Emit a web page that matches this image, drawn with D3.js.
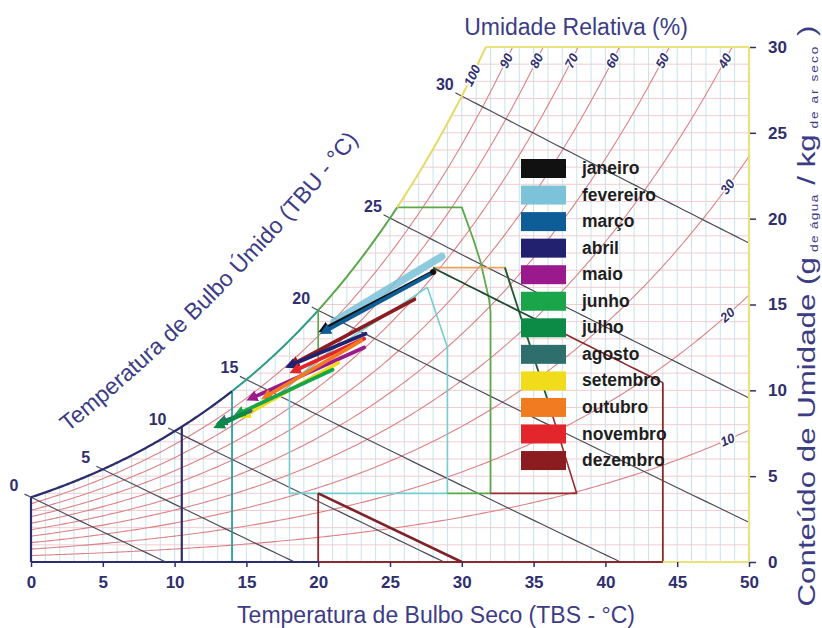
<!DOCTYPE html>
<html><head><meta charset="utf-8">
<script src="https://cdn.jsdelivr.net/npm/d3@7"></script>
<style>body{margin:0;background:#fff}text{font-family:"Liberation Sans",Arial,sans-serif}</style>
</head><body><svg id="c" width="822" height="628"></svg>
<script>
// ---------- data ----------
const months = ["janeiro","fevereiro","março","abril","maio","junho","julho","agosto","setembro","outubro","novembro","dezembro"];
const monthColors = ["#111111","#7cc3da","#0e5d97","#222170","#9a1a8e","#1aa54b","#0b8b45","#2e6f6e","#f1dc1c","#f07b20","#e3262b","#8b1c20"];
const tMin = [20.5,21.1,20.6,18.2,15.5,14.6,13.2,13.4,15.0,16.5,18.5,18.4];
const wMin = [13.6,14.0,13.5,11.5, 9.6, 8.7, 8.0, 8.2, 8.6, 9.7,11.2,11.6];
const tMax = [28.0,28.6,27.9,23.3,23.2,21.0,15.0,15.3,21.4,23.0,23.2,26.7];
const wMax = [16.9,17.8,16.8,13.3,12.5,11.2, 8.7, 8.8,11.6,12.9,13.0,15.3];
const drawOrder = [1,0,2,11,3,10,4,9,8,5,7,6];

const dbTicks = [0,5,10,15,20,25,30,35,40,45,50];
const wTicks = [0,5,10,15,20,25,30];
const rhLevels = [10,20,30,40,50,60,70,80,90];
const rhLabelsTop = [100,90,80,70,60,50,40];
const rhLabelsSide = [30,20,10];
const wbLevels = [0,5,10,15,20,25,30];

// zone boundaries [TBS, W]
const heatLines = [10.5,14];
const comfortZone = [[27.6,16.0],[29,12.5],[29,4],[18,4],[18,10.3],[20,11.8],[27.6,16.0]];
const ventLeft = [[20,14.75],[20,11.8]];
const ventZone = [[25.5,20.66],[30,20.66],[30.8,18.8],[31.3,17.5],[31.9,15.3],[32,14.6],[32,4],[29,4]];
const massOrange = [[28,17.15],[33,17.15],[33.4,16.1]];
const massGreen = [[33,17.15],[36.2,8.85]];
const evapRed = [[36.2,8.85],[38,4],[32,4]];
const evapBox = [[44,10.45],[44,0],[20,0],[20,4]];
const humidLine = [[20,4],[30,0]];
const evapWB = 24, evapT0 = 28, evapTsplit = 37, evapT1 = 44;

// ---------- psychrometrics ----------
const P = 101.325;
const psat = T => 0.61094*Math.exp(17.625*T/(T+243.04));
const wRH = (T, rh) => { const p = rh/100*psat(T); return 622*p/(P-p); };
const wWB = (T, Tw) => { const ws = wRH(Tw,100)/1000; return ((2501-2.326*Tw)*ws - 1.006*(T-Tw))/(2501+1.86*T-4.186*Tw)*1000; };
function tForW(rh, W){ let a=-10,b=80; for(let i=0;i<60;i++){const m=(a+b)/2; if(wRH(m,rh)<W) a=m; else b=m;} return (a+b)/2; }

// ---------- scales ----------
const x = d3.scaleLinear().domain([0,50]).range([31,749]);
const y = d3.scaleLinear().domain([0,30]).range([562,47]);
const svg = d3.select("#c");
const line = d3.line().x(d=>x(d[0])).y(d=>y(d[1]));
const tSatTop = tForW(100,30);
const satPts = (a,b) => d3.range(a,b,0.1).concat([b]).map(T=>[T,wRH(T,100)]);

// clip
const clipPts = satPts(0,tSatTop).concat([[50,30],[50,0],[0,0]]);
svg.append("clipPath").attr("id","area").append("path").attr("d",line(clipPts)+"Z");
const gc = svg.append("g").attr("clip-path","url(#area)");

// grid
gc.selectAll(".gv").data(d3.range(1,50)).join("line")
  .attr("x1",d=>x(d)).attr("x2",d=>x(d)).attr("y1",y(0)).attr("y2",y(30))
  .attr("stroke","#bfe2e6").attr("stroke-width",0.9);
gc.selectAll(".gh").data(d3.range(1,30)).join("line")
  .attr("x1",x(0)).attr("x2",x(50)).attr("y1",d=>y(d)).attr("y2",d=>y(d))
  .attr("stroke","#f3c6cb").attr("stroke-width",0.9);

// RH curves
rhLevels.forEach(rh=>{
  const tEnd = Math.min(50, tForW(rh,30));
  const pts = d3.range(0,tEnd,0.2).concat([tEnd]).map(T=>[T,wRH(T,rh)]);
  gc.append("path").attr("d",line(pts)).attr("fill","none").attr("stroke","#dc8286").attr("stroke-width",1.1);
});

// wet bulb lines
wbLevels.forEach(tw=>{
  const ws = wRH(tw,100)/1000;
  const t0 = tw + (2501-2.326*tw)*ws/1.006;
  const tEnd = Math.min(50,t0);
  const pts = d3.range(tw-0.45,tEnd,0.5).concat([tEnd]).map(T=>[T,Math.max(0,wWB(T,tw))]);
  svg.append("path").attr("d",line(pts)).attr("fill","none").attr("stroke","#4b4b5a").attr("stroke-width",1.2);
});

// zones
const zl = (pts,col,w)=>svg.append("path").attr("d",line(pts)).attr("fill","none").attr("stroke",col).attr("stroke-width",w).attr("stroke-linejoin","round");
heatLines.forEach((t,i)=>zl([[t,0],[t,wRH(t,100)]], i===0?"#2b2d6c":"#1f9d9a", i===0?2.2:1.7));
zl(comfortZone,"#74cdd0",1.6);
zl(ventLeft,"#5aa848",1.6);
zl(ventZone,"#5aa848",1.8);
zl(massOrange,"#e8a45a",1.8);
zl(massGreen,"#1f5a35",1.8);
zl(evapRed,"#9b2d30",1.6);
zl(d3.range(evapT0,evapTsplit+0.01,0.5).map(T=>[T,wWB(T,evapWB)]),"#1f4a30",1.8);
zl(d3.range(evapTsplit,evapT1+0.01,0.5).map(T=>[T,wWB(T,evapWB)]),"#8b2a2e",1.6);
zl(evapBox,"#8b2a2e",1.8);
zl(humidLine,"#7d2228",2.6);

// saturation curve segments & borders
zl(satPts(0,14),"#2b2d6c",2.3);
zl(satPts(14,20),"#2a9d86",2);
zl(satPts(20,25.5),"#5aa848",2);
zl(satPts(25.5,tSatTop),"#e7da62",2);
zl([[tSatTop,30],[50,30]],"#ece27c",2.2);
zl([[50,30],[50,0]],"#ece27c",2.2);
zl([[0,0],[0,wRH(0,100)]],"#2b2d6c",2.2);
zl([[0,0],[20,0]],"#2b2d6c",2.2);
zl([[44,0],[50,0]],"#ece27c",2.2);

// monthly arrows
const defs = svg.append("defs");
monthColors.forEach((c,i)=>{
  defs.append("marker").attr("id","m"+i).attr("viewBox","0 0 10 10").attr("refX",3).attr("refY",5)
    .attr("markerWidth",3).attr("markerHeight",3).attr("orient","auto-start-reverse")
    .append("path").attr("d","M0,0L10,5L0,10z").attr("fill",c);
});
drawOrder.forEach(i=>{
  svg.append("line").attr("x1",x(tMin[i])).attr("y1",y(wMin[i])).attr("x2",x(tMax[i])).attr("y2",y(wMax[i]))
    .attr("stroke",monthColors[i]).attr("stroke-width", i===1?7.5:3.8).attr("stroke-linecap","round")
    .attr("opacity", i===1?0.85:1)
    .attr("marker-start", i===1?null:"url(#m"+i+")");
});
svg.append("circle").attr("cx",x(tMax[0])).attr("cy",y(wMax[0])).attr("r",3).attr("fill","#111");

// RH labels
const navy = "#2f2f6e";
function rhLabel(rh,T){
  const W = wRH(T,rh), dT=0.3;
  const ang = Math.atan2(y(wRH(T+dT,rh))-y(wRH(T-dT,rh)), x(T+dT)-x(T-dT))*180/Math.PI;
  svg.append("text").attr("transform",`translate(${x(T)},${y(W)}) rotate(${ang})`)
    .attr("text-anchor","middle").attr("dy","0.35em").attr("font-size",13).attr("font-weight","bold")
    .attr("font-style","italic").attr("fill",navy)
    .attr("stroke","#fff").attr("stroke-width",3).attr("paint-order","stroke").text(rh);
}
rhLabelsTop.forEach(rh=>rhLabel(rh, tForW(rh,29.2) - (rh===100?0.5:0)));
rhLabelsSide.forEach(rh=>rhLabel(rh,48.5));

// wet bulb labels
wbLevels.forEach(tw=>{
  svg.append("text").attr("x",x(tw)-17).attr("y",y(wRH(tw,100))-12).attr("dy","0.35em")
    .attr("text-anchor","middle").attr("font-size",16).attr("font-weight","bold").attr("fill",navy).text(tw);
});

// axes
const xa = svg.append("g").attr("transform",`translate(0,${y(0)})`)
  .call(d3.axisBottom(x).tickValues(dbTicks).tickSize(5).tickPadding(9));
xa.select(".domain").remove();
xa.selectAll("line").attr("stroke",navy).attr("stroke-width",1.5);
xa.selectAll("text").attr("font-size",17).attr("font-weight","bold").attr("fill",navy).attr("font-family","Liberation Sans, Arial, sans-serif");
const ya = svg.append("g").attr("transform",`translate(${x(50)+1},0)`)
  .call(d3.axisRight(y).tickValues(wTicks).tickSize(6).tickPadding(12));
ya.select(".domain").remove();
ya.selectAll("line").attr("stroke",navy).attr("stroke-width",1.5);
ya.selectAll("text").attr("font-size",17).attr("font-weight","bold").attr("fill",navy).attr("font-family","Liberation Sans, Arial, sans-serif");

// titles
const tcol = "#3c3c85";
svg.append("text").attr("x",576).attr("y",35).attr("text-anchor","middle").attr("font-size",23).attr("fill",tcol).text("Umidade Relativa (%)");
svg.append("text").attr("x",436).attr("y",623).attr("text-anchor","middle").attr("font-size",23).attr("fill",tcol).text("Temperatura de Bulbo Seco (TBS - °C)");
const rt = svg.append("text").attr("transform","translate(815,316) rotate(-90) scale(1.36,1)").attr("text-anchor","middle").attr("font-size",23).attr("fill",tcol);
rt.append("tspan").text("Conteúdo de Umidade (g");
rt.append("tspan").attr("font-size",10).attr("dy",3).attr("letter-spacing",1).text(" de água");
rt.append("tspan").attr("dy",-3).text(" / kg");
rt.append("tspan").attr("font-size",10).attr("dy",3).attr("letter-spacing",1.5).text(" de ar seco");
rt.append("tspan").attr("dy",-3).text(" )");
svg.append("path").attr("id","wbpath").attr("d","M54,443 Q218,316 370,126").attr("fill","none");
svg.append("text").attr("font-size",23).attr("fill",tcol)
  .append("textPath").attr("href","#wbpath").attr("startOffset","50%").attr("text-anchor","middle")
  .text("Temperatura de Bulbo Úmido (TBU - °C)");

// legend
months.forEach((m,i)=>{
  const yy = 159 + i*26.55;
  svg.append("rect").attr("x",521).attr("y",yy).attr("width",45).attr("height",19).attr("fill",monthColors[i]);
  svg.append("text").attr("x",582).attr("y",yy+15).attr("font-size",17.5).attr("font-weight","bold").attr("fill","#1e1e1e").text(m);
});
</script></body></html>
